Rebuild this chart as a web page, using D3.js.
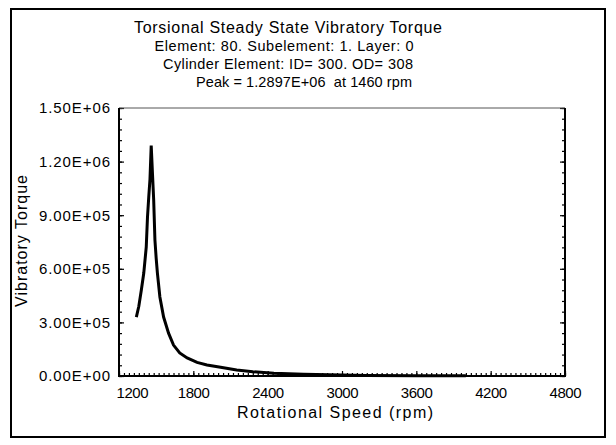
<!DOCTYPE html>
<html>
<head>
<meta charset="utf-8">
<script src="https://cdn.jsdelivr.net/npm/d3@7"></script>
<style>
  html, body { margin: 0; padding: 0; background: #fff; }
  svg { display: block; }
  text { font-family: "Liberation Sans", Arial, sans-serif; fill: #000; }
</style>
</head>
<body>
<svg id="chart" width="616" height="445"></svg>
<script>
// ---- data ----
const rpm = [1340, 1360, 1380, 1400, 1420, 1430, 1440, 1450, 1460, 1470, 1480, 1490, 1500, 1510,
             1530, 1560, 1600, 1640, 1690, 1750, 1830, 1910, 2020, 2150, 2280, 2450, 2690, 3200, 3600, 4000];
const torque = [330000, 390000, 480000, 576000, 722000, 890000, 1000000, 1100000, 1289700, 1136000,
                985000, 761000, 660000, 576000, 442000, 330000, 240000, 173000, 129000, 101000,
                76000, 62000, 49000, 34000, 24000, 15000, 9500, 3000, 2000, 1500];
const xTickValues = [1200, 1800, 2400, 3000, 3600, 4200, 4800];
const yTickValues = [0, 300000, 600000, 900000, 1200000, 1500000];
const yTickLabels = ["0.00E+00", "3.00E+05", "6.00E+05", "9.00E+05", "1.20E+06", "1.50E+06"];
const titleLines = [
  "Torsional Steady State Vibratory Torque",
  "Element: 80. Subelement: 1. Layer: 0",
  "Cylinder Element: ID= 300. OD= 308",
  "Peak = 1.2897E+06  at 1460 rpm"
];
const xAxisTitle = "Rotational Speed (rpm)";
const yAxisTitle = "Vibratory Torque";

// ---- layout ----
const svg = d3.select("#chart");
const L = 119, R = 565, T = 108, B = 376;

const x = d3.scaleLinear().domain([1200, 4800]).range([L, R]);
const y = d3.scaleLinear().domain([0, 1500000]).range([B, T]);

// outer border
svg.append("rect").attr("x", 11).attr("y", 9).attr("width", 594).attr("height", 428)
  .attr("fill", "none").attr("stroke", "#000").attr("stroke-width", 2);

// titles
const titleSpec = [
  {cx: 288, y: 33, size: 16, len: 308},
  {cx: 284, y: 51, size: 14.5, len: 259},
  {cx: 288, y: 69, size: 14.5, len: 250},
  {cx: 304, y: 87, size: 14.5, len: 216}
];
titleLines.forEach((t, i) => {
  const s = titleSpec[i];
  svg.append("text").attr("x", s.cx).attr("y", s.y)
    .attr("text-anchor", "middle").attr("font-size", s.size)
    .attr("textLength", s.len).attr("lengthAdjust", "spacing")
    .style("white-space", "pre")
    .text(t);
});

// minor ticks
const xMinor = d3.range(1200, 4801, 40);
const yMinor = d3.range(0, 1500001, 60000);

svg.append("g").attr("transform", `translate(0,${B})`)
  .call(d3.axisBottom(x).tickValues(xMinor).tickSizeInner(-3).tickSizeOuter(0).tickFormat(""))
  .call(g => g.select(".domain").remove());
svg.append("g").attr("transform", `translate(${L},0)`)
  .call(d3.axisLeft(y).tickValues(yMinor).tickSizeInner(-3).tickSizeOuter(0).tickFormat(""))
  .call(g => g.select(".domain").remove());
svg.append("g").attr("transform", `translate(${R},0)`)
  .call(d3.axisRight(y).tickValues(yMinor).tickSizeInner(-3).tickSizeOuter(0).tickFormat(""))
  .call(g => g.select(".domain").remove());

// major ticks + labels
const xAx = svg.append("g").attr("transform", `translate(0,${B})`)
  .call(d3.axisBottom(x).tickValues(xTickValues).tickSizeInner(-5).tickSizeOuter(0).tickPadding(11)
        .tickFormat(d3.format("d")))
  .call(g => g.select(".domain").remove());
xAx.selectAll("text").attr("font-size", 15).attr("font-family", "Liberation Sans, Arial, sans-serif")
  .attr("textLength", 32).attr("lengthAdjust", "spacing");
xAx.selectAll(".tick").filter(d => d === 1200).select("text").attr("x", 13);

const yAx = svg.append("g").attr("transform", `translate(${L},0)`)
  .call(d3.axisLeft(y).tickValues(yTickValues).tickSizeInner(-5).tickSizeOuter(0).tickPadding(9)
        .tickFormat((d, i) => yTickLabels[i]))
  .call(g => g.select(".domain").remove());
yAx.selectAll("text").attr("font-size", 15).attr("font-family", "Liberation Sans, Arial, sans-serif")
  .attr("textLength", 71).attr("lengthAdjust", "spacing");

svg.append("g").attr("transform", `translate(${R},0)`)
  .call(d3.axisRight(y).tickValues(yTickValues).tickSizeInner(-5).tickSizeOuter(0).tickFormat(""))
  .call(g => g.select(".domain").remove());

svg.selectAll(".tick line").attr("stroke", "#000").attr("stroke-width", 1.2);

// frame
svg.append("line").attr("x1", L).attr("x2", R).attr("y1", T).attr("y2", T)
  .attr("stroke", "#555").attr("stroke-width", 1);
svg.append("line").attr("x1", L).attr("x2", L).attr("y1", T).attr("y2", B)
  .attr("stroke", "#000").attr("stroke-width", 2);
svg.append("line").attr("x1", R).attr("x2", R).attr("y1", T).attr("y2", B)
  .attr("stroke", "#000").attr("stroke-width", 2);
svg.append("line").attr("x1", L - 1).attr("x2", R + 1).attr("y1", B).attr("y2", B)
  .attr("stroke", "#000").attr("stroke-width", 2);

// data line
const data = rpm.map((r, i) => ({r, v: torque[i]}));
svg.append("path").datum(data)
  .attr("fill", "none").attr("stroke", "#000").attr("stroke-width", 3)
  .attr("stroke-linejoin", "miter")
  .attr("d", d3.line().x(d => x(d.r)).y(d => y(d.v)));

// axis titles
svg.append("text").attr("x", 335).attr("y", 418).attr("text-anchor", "middle")
  .attr("font-size", 16).attr("textLength", 196).attr("lengthAdjust", "spacing")
  .text(xAxisTitle);
svg.append("text").attr("transform", "translate(27,241) rotate(-90)").attr("text-anchor", "middle")
  .attr("font-size", 16).attr("textLength", 132).attr("lengthAdjust", "spacing")
  .text(yAxisTitle);
</script>
</body>
</html>
